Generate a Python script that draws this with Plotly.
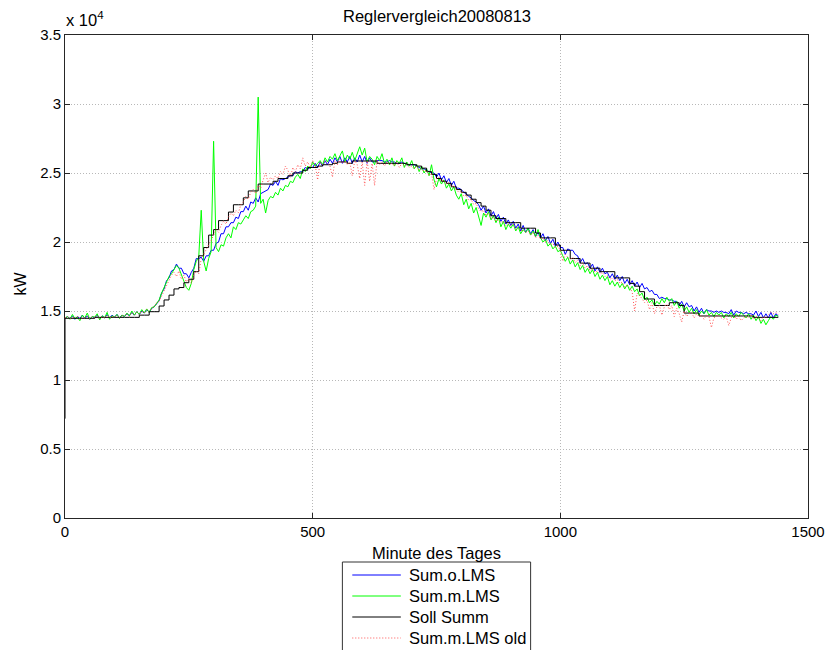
import plotly.graph_objects as go

# ---------------- data (kW) ----------------
# sample minutes: 5-minute grid for measured series, 10-minute grid for the set-point
minutes_5 = list(range(0, 1441, 5))
minutes_10 = list(range(0, 1441, 10))

sum_o_lms = [  # blue
    14450, 14600, 14450, 14650, 14400, 14600, 14450, 14700, 14450, 14650, 14400, 14600,
    14500, 14700, 14450, 14650, 14500, 14750, 14500, 14700, 14550, 14750, 14500, 14700,
    14600, 14800, 14650, 14900, 14700, 14950, 14750, 15000, 14850, 15100, 14900, 15200,
    15300, 15550, 15750, 16300, 16600, 17200, 17400, 17900, 18000, 18400, 18100, 18100,
    17700, 17700, 17400, 17800, 18100, 18800, 18800, 18900, 18600, 19000, 19000, 19400,
    19400, 19900, 20000, 20600, 20600, 21100, 21100, 21400, 21400, 21800, 21700, 22200,
    22200, 22600, 22300, 22900, 22800, 23200, 22900, 23500, 23600, 23700, 23800, 24200,
    24100, 24400, 24100, 24600, 24500, 24600, 24700, 24800, 24800, 25100, 25000, 25100,
    25100, 25400, 25300, 25400, 25400, 25700, 25400, 25800, 25500, 25900, 25600, 26000,
    25700, 26100, 25800, 26200, 25700, 26100, 25800, 26200, 25700, 26100, 25800, 26300,
    25800, 26200, 25700, 26100, 25800, 25800, 25900, 25900, 25900, 25800, 25800, 25900,
    25800, 25800, 25700, 25700, 25800, 25700, 25600, 25600, 25600, 25600, 25500, 25400,
    25300, 25300, 25200, 25100, 25000, 25000, 24700, 25000, 24500, 24800, 24300, 24600,
    24100, 24400, 23900, 23900, 23800, 23600, 23500, 23300, 23200, 23000, 22900, 22700,
    22300, 22600, 22100, 22400, 21900, 22200, 21700, 22000, 21500, 21800, 21300, 21600,
    21200, 21500, 21000, 21300, 20800, 21200, 20700, 21000, 20600, 20900, 20400, 20700,
    20300, 20600, 20100, 20400, 19900, 20200, 19700, 20000, 19600, 19600, 19100, 19500,
    19400, 19400, 19100, 19000, 18500, 18800, 18400, 18500, 18100, 18400, 17900, 18200,
    17800, 18100, 17700, 17800, 17400, 17700, 17300, 17600, 17200, 17500, 17000, 17300,
    16900, 17200, 16800, 17100, 16700, 17000, 16600, 16700, 16400, 16500, 16200, 16200,
    15900, 16000, 15900, 15900, 15800, 15800, 15700, 15700, 15400, 15700, 15300, 15600,
    15300, 15400, 15000, 15300, 14900, 15200, 14800, 15100, 15000, 15000, 14900, 15000,
    14900, 15000, 14900, 14900, 14800, 15100, 14700, 15000, 14900, 14900, 14800, 14900,
    14800, 14800, 14700, 15000, 14600, 14900, 14500, 14800, 14500, 14900, 14500, 14800,
    14650,
]

sum_m_lms = [  # green
    14500, 14600, 14400, 14750, 14450, 14550, 14300, 14700, 14500, 14850, 14400, 14600,
    14550, 14800, 14350, 14650, 14500, 14900, 14400, 14650, 14550, 14750, 14450, 14700,
    14600, 14850, 14650, 15000, 14700, 14950, 14750, 15100, 14850, 15150, 14900, 15250,
    15300, 15600, 15800, 16300, 16700, 17200, 17500, 17700, 18000, 18300, 18100, 17600,
    17200, 16700, 16500, 17000, 18000, 18600, 18900, 22300, 18600, 17900, 18800, 19300,
    27300, 19600, 19300, 19800, 19700, 20300, 20600, 20300, 21100, 20900, 21400, 21300,
    21600, 21900, 21700, 22200, 22300, 22600, 30500, 22800, 23100, 22100, 23000, 23300,
    23200, 23600, 23400, 23900, 23700, 24100, 24000, 24400, 24300, 24700, 24900, 24600,
    25300, 25100, 25500, 25300, 25800, 25500, 25700, 25900, 25600, 26100, 25800, 26200,
    26000, 26400, 25900, 26200, 26600, 25800, 26300, 26000, 26500, 25900, 26400, 26900,
    26300, 26800, 25800, 26200, 26000, 25600, 26200, 25900, 26400, 25700, 26000, 25600,
    26100, 25500, 25900, 25700, 26100, 25400, 25800, 25500, 25900, 25300, 25600, 25100,
    25500, 25000, 25300, 24800, 25600, 24500, 24000, 24600, 24200, 24500, 23900, 24200,
    23700, 24000, 23400, 23100, 23500, 22700, 23100, 22400, 22800, 22100, 22500, 21900,
    21200, 22100, 21800, 22200, 21600, 21900, 21400, 21800, 21100, 21500, 20900, 21300,
    21000, 21300, 20800, 21100, 20600, 20900, 20700, 21000, 20500, 20800, 20400, 20900,
    20300, 20000, 20200, 19700, 19900, 19500, 19700, 19300, 19400, 19000, 18600, 18900,
    18400, 18700, 18200, 18500, 18000, 18300, 17800, 18100, 17700, 18000, 17500, 17800,
    17300, 17600, 17200, 17500, 16900, 17200, 16800, 17100, 16700, 17000, 16600, 16900,
    16500, 16800, 16400, 16600, 16100, 16300, 15800, 16000, 15600, 15800, 15400, 15700,
    15500, 15900, 15600, 16000, 15700, 15900, 15400, 15700, 15200, 15500, 15000, 15300,
    14900, 15200, 14800, 15100, 14700, 15000, 14800, 15100, 14700, 14900, 14600, 14900,
    14700, 14900, 14500, 14800, 14600, 14900, 14500, 14800, 14600, 14900, 14700, 14500,
    14800, 14400, 14700, 14300, 14600, 14100, 14400, 14000, 14300, 14600, 14400, 14700,
    14600,
]

sum_m_lms_old = [  # red dotted
    14500, 14600, 14450, 14550, 14500, 14650, 14400, 14550, 14500, 14600, 14450, 14600,
    14550, 14650, 14450, 14600, 14500, 14700, 14500, 14600, 14550, 14700, 14500, 14650,
    14650, 14800, 14600, 14900, 14700, 14900, 14750, 15000, 14850, 15100, 14950, 15200,
    15300, 15600, 15700, 16100, 16400, 16900, 17200, 17600, 17800, 17500, 17900, 17300,
    17600, 17100, 17400, 17000, 17600, 17900, 17700, 18800, 19100, 19500, 19800, 20100,
    20500, 20900, 20700, 21200, 21500, 21300, 21800, 22100, 21900, 22300, 22100, 22700,
    22900, 23300, 23100, 23600, 23800, 23500, 24100, 23900, 24500, 25000, 24300, 24700,
    24500, 24800, 24600, 25100, 24900, 25500, 25200, 24700, 25400, 25100, 25600, 25300,
    26100, 25500, 25800, 25400, 25900, 25600, 24500, 25800, 25600, 25900, 25700, 25500,
    24700, 25900, 25600, 26000, 25700, 25900, 25600, 25800, 24800, 25900, 25600, 24600,
    25800, 24100, 25900, 24400, 25700, 24100, 25900, 25600, 25800, 25500, 25800, 25600,
    25700, 25500, 25800, 25400, 25700, 25500, 25600, 25400, 25500, 25300, 25500, 25200,
    25300, 25100, 25200, 24800, 25000, 23800, 24600, 24700, 24400, 24500, 24200, 24300,
    24000, 24100, 23800, 23600, 23700, 23300, 23400, 23000, 23100, 22700, 22800, 22400,
    22200, 22300, 21900, 22100, 21700, 21800, 21500, 21600, 21400, 21500, 21200, 21300,
    21200, 21300, 20900, 21100, 20800, 20900, 20700, 20800, 20500, 20700, 20300, 20500,
    20200, 20300, 20000, 20100, 19800, 19900, 19600, 19700, 19400, 18600, 19100, 18900,
    18700, 18900, 18500, 18700, 18300, 18500, 18100, 18300, 17900, 18100, 17800, 17900,
    17700, 17800, 17500, 17600, 17300, 17400, 17200, 17300, 17000, 17100, 16700, 16900,
    16700, 16400, 15000, 16300, 16100, 15900, 15600, 15800, 15100, 15600, 14800, 15300,
    15400, 14700, 15300, 15500, 15100, 15400, 14600, 15200, 14800, 14200, 15000, 14600,
    14800, 14900, 14500, 14800, 14600, 14700, 14400, 14700, 14600, 13800, 14500, 14600,
    14700, 14500, 14400, 14600, 13950, 14500, 14700, 14400, 14600, 14300, 14500, 14600,
    14500, 14700, 14400, 14600, 14500, 14300, 14600, 14500, 14700, 14900, 14800, 14900,
    14750,
]

soll_start = 7200  # value at minute 0 before the first step
soll_summ = [  # black step line, 10-minute grid
    14470, 14470, 14470, 14470, 14470, 14470,
    14540, 14540, 14540, 14540, 14540, 14540,
    14540, 14540, 14540, 14700, 14700, 14950,
    14950, 15360, 15800, 16150, 16600, 16700,
    17050, 17300, 17850, 19000, 19600, 20500,
    20900, 21550, 21550, 22170, 22700, 22700,
    23200, 23700, 23700, 24200, 24200, 24200,
    24400, 24600, 24600, 24800, 25000, 25000,
    25200, 25400, 25400, 25500, 25600, 25600,
    25700, 25800, 25800, 25700, 25870, 25870,
    25870, 25870, 25870, 25700, 25700, 25700,
    25700, 25700, 25700, 25600, 25600, 25500,
    25350, 25100, 24900, 24600, 24400, 24250,
    24000, 23800, 23600, 23400, 23100, 22850,
    22600, 22300, 21900, 21700, 21700, 21400,
    21400, 21400, 21000, 21000, 21000, 20650,
    20300, 20300, 20300, 19780, 19400, 19400,
    18800, 18800, 18470, 18470, 18100, 18100,
    17850, 17850, 17850, 17400, 17400, 17400,
    17000, 16800, 16400, 15870, 15870, 15400,
    15400, 15400, 15600, 15600, 15400, 14850,
    14850, 14850, 14640, 14640, 14640, 14640,
    14640, 14640, 14640, 14640, 14640, 14640,
    14640, 14540, 14540, 14540, 14540, 14540,
    14540,
]

x_ticks = [0, 500, 1000, 1500]
y_ticks = [0, 5000, 10000, 15000, 20000, 25000, 30000, 35000]
y_tick_text = ["0", "0.5", "1", "1.5", "2", "2.5", "3", "3.5"]

series_names = ["Sum.o.LMS", "Sum.m.LMS", "Soll Summ", "Sum.m.LMS old"]
series_colors = ["#0000ff", "#00ff00", "#000000", "#ff5050"]
series_dash = ["solid", "solid", "solid", "1px,2px"]

# ---------------- figure ----------------
W, H = 837, 650
L, R, T, B = 65, 815, 35, 518


def px(xp):
    return (xp - L) / (R - L)


def py(yp):
    return (B - yp) / (B - T)


fig = go.Figure()
fig.add_trace(go.Scatter(x=minutes_5, y=sum_o_lms, mode="lines", name=series_names[0],
                         line=dict(color=series_colors[0], width=1)))
fig.add_trace(go.Scatter(x=minutes_5, y=sum_m_lms, mode="lines", name=series_names[1],
                         line=dict(color=series_colors[1], width=1)))
fig.add_trace(go.Scatter(x=[0] + minutes_10, y=[soll_start] + soll_summ, mode="lines",
                         name=series_names[2], line=dict(color=series_colors[2], width=1, shape="hv")))
fig.add_trace(go.Scatter(x=minutes_5, y=sum_m_lms_old, mode="lines", name=series_names[3],
                         line=dict(color=series_colors[3], width=1, dash=series_dash[3])))

axis_common = dict(showline=True, linecolor="#262626", linewidth=1, mirror="ticks",
                   ticks="inside", ticklen=5, tickcolor="#262626",
                   showgrid=True, gridcolor="#b8b8b8", griddash="1px,2px", gridwidth=1,
                   zeroline=False, tickfont=dict(size=15, color="black"))

fig.update_layout(
    width=W, height=H,
    margin=dict(l=L, r=W - R, t=T, b=H - B),
    paper_bgcolor="white", plot_bgcolor="white",
    showlegend=False,
    font=dict(family="Liberation Sans, Arial, sans-serif", size=15, color="black"),
    xaxis=dict(range=[0, 1500], tickvals=x_ticks, **axis_common),
    yaxis=dict(range=[0, 35000], tickvals=y_ticks, ticktext=y_tick_text, **axis_common),
)

ann = []
ann.append(dict(text="Reglervergleich20080813", x=px(440), y=py(16), xref="paper", yref="paper",
                showarrow=False, xanchor="center", yanchor="middle", font=dict(size=16.5)))
ann.append(dict(text="x 10<sup>4</sup>", x=px(64), y=py(19), xref="paper", yref="paper",
                showarrow=False, xanchor="left", yanchor="middle", font=dict(size=16.5)))
ann.append(dict(text="Minute des Tages", x=px(440), y=py(553), xref="paper", yref="paper",
                showarrow=False, xanchor="center", yanchor="middle", font=dict(size=16.5)))
ann.append(dict(text="kW", x=px(20), y=py(283), xref="paper", yref="paper", textangle=-90,
                showarrow=False, xanchor="center", yanchor="middle", font=dict(size=16)))

shapes = []
# legend box (extends below the window like in the reference)
shapes.append(dict(type="rect", xref="paper", yref="paper", x0=px(345), x1=px(535),
                   y0=py(562), y1=py(680), line=dict(color="#333333", width=1),
                   fillcolor="white", layer="above"))
legend_rows = [575, 596, 617, 638]
for name, col, dash, yr in zip(series_names, series_colors, series_dash, legend_rows):
    shapes.append(dict(type="line", xref="paper", yref="paper", x0=px(355), x1=px(404),
                       y0=py(yr), y1=py(yr), line=dict(color=col, width=1, dash=dash), layer="above"))
    ann.append(dict(text=name, x=px(410), y=py(yr), xref="paper", yref="paper",
                    showarrow=False, xanchor="left", yanchor="middle", font=dict(size=16.5)))

fig.update_layout(annotations=ann, shapes=shapes)
fig.write_html("out.html")
